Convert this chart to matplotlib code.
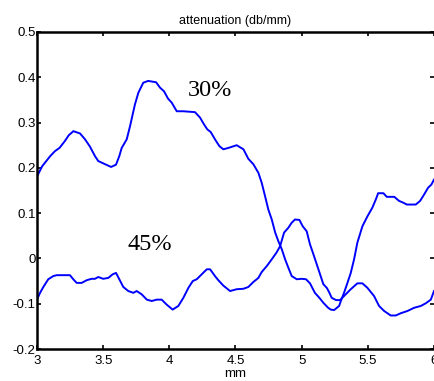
import matplotlib.pyplot as plt

# curve labelled 30%
x30 = [3.00, 3.04, 3.10, 3.136, 3.17, 3.21, 3.24, 3.275, 3.325, 3.363, 3.40, 3.438, 3.463, 3.50, 3.56,
       3.597, 3.622, 3.64, 3.678, 3.703, 3.74, 3.766, 3.803, 3.84, 3.90, 3.93, 3.96, 3.99, 4.018, 4.056,
       4.106, 4.194, 4.232, 4.262, 4.287, 4.313, 4.345, 4.378, 4.408, 4.446, 4.509, 4.56, 4.597, 4.635,
       4.673, 4.698, 4.723, 4.748, 4.774, 4.80, 4.824, 4.85, 4.875, 4.90, 4.925, 4.963, 5.00, 5.033, 5.063,
       5.10, 5.134, 5.164, 5.20, 5.22, 5.245, 5.283, 5.296, 5.32, 5.346, 5.371, 5.396, 5.421, 5.459, 5.497,
       5.534, 5.56, 5.578, 5.618, 5.643, 5.70, 5.736, 5.761, 5.795, 5.862, 5.895, 5.925, 5.955, 5.98, 6.0]
y30 = [0.181, 0.204, 0.226, 0.237, 0.244, 0.259, 0.272, 0.281, 0.276, 0.263, 0.247, 0.226, 0.215, 0.210,
       0.202, 0.207, 0.226, 0.244, 0.263, 0.292, 0.340, 0.366, 0.388, 0.392, 0.389, 0.377, 0.369, 0.353,
       0.344, 0.325, 0.325, 0.323, 0.311, 0.296, 0.285, 0.279, 0.263, 0.248, 0.241, 0.244, 0.250, 0.241,
       0.220, 0.208, 0.189, 0.167, 0.138, 0.108, 0.086, 0.057, 0.038, 0.020, -0.002, -0.021, -0.039, -0.046,
       -0.045, -0.046, -0.055, -0.076, -0.087, -0.098, -0.109, -0.113, -0.114, -0.105, -0.094, -0.076,
       -0.054, -0.032, -0.002, 0.035, 0.071, 0.093, 0.112, 0.130, 0.144, 0.144, 0.136, 0.136, 0.127, 0.124,
       0.119, 0.119, 0.127, 0.141, 0.156, 0.163, 0.174]

# curve labelled 45%
x45 = [3.0, 3.023, 3.048, 3.085, 3.123, 3.149, 3.249, 3.274, 3.30, 3.338, 3.376, 3.413, 3.438, 3.463, 3.50,
       3.539, 3.572, 3.597, 3.622, 3.652, 3.69, 3.728, 3.753, 3.79, 3.83, 3.867, 3.905, 3.942, 3.98, 4.025,
       4.068, 4.106, 4.144, 4.177, 4.207, 4.245, 4.283, 4.308, 4.345, 4.37, 4.408, 4.459, 4.509, 4.56,
       4.597, 4.635, 4.673, 4.698, 4.736, 4.774, 4.81, 4.837, 4.867, 4.90, 4.925, 4.95, 4.983, 5.008, 5.038,
       5.063, 5.089, 5.114, 5.139, 5.164, 5.19, 5.21, 5.227, 5.26, 5.29, 5.32, 5.371, 5.421, 5.459, 5.497,
       5.547, 5.585, 5.623, 5.673, 5.711, 5.749, 5.80, 5.85, 5.90, 5.938, 5.976, 6.0]
y45 = [-0.091, -0.076, -0.063, -0.046, -0.039, -0.037, -0.037, -0.046, -0.054, -0.054, -0.048, -0.045,
       -0.045, -0.041, -0.045, -0.043, -0.035, -0.032, -0.046, -0.063, -0.072, -0.076, -0.072, -0.079,
       -0.091, -0.094, -0.091, -0.091, -0.102, -0.113, -0.105, -0.087, -0.065, -0.050, -0.046, -0.035,
       -0.024, -0.024, -0.039, -0.048, -0.060, -0.072, -0.068, -0.067, -0.063, -0.052, -0.043, -0.030,
       -0.017, -0.002, 0.013, 0.027, 0.057, 0.068, 0.079, 0.086, 0.085, 0.071, 0.060, 0.031, 0.009, -0.013,
       -0.035, -0.057, -0.065, -0.076, -0.087, -0.092, -0.092, -0.083, -0.068, -0.055, -0.055, -0.065,
       -0.083, -0.105, -0.116, -0.126, -0.126, -0.121, -0.116, -0.109, -0.105, -0.099, -0.091, -0.072]

xticks = [3, 3.5, 4, 4.5, 5, 5.5, 6]
xticklabels = ['3', '3.5', '4', '4.5', '5', '5.5', '6']
yticks = [-0.2, -0.1, 0, 0.1, 0.2, 0.3, 0.4, 0.5]
yticklabels = ['-0.2', '-0.1', '0', '0.1', '0.2', '0.3', '0.4', '0.5']

plt.rcParams['font.family'] = ['Liberation Sans', 'DejaVu Sans']

fig = plt.figure(figsize=(4.34, 3.81), dpi=100)
ax = fig.add_axes([37 / 434, 1 - 349 / 381, 1 - 37 / 434, (349 - 32) / 381])

ax.plot(x30, y30, color='#0000ff', lw=1.4)
ax.plot(x45, y45, color='#0000ff', lw=1.4)

ax.text(4.14, 0.359, '30%', family='Liberation Serif', fontsize=17.5, ha='left', va='baseline')
ax.text(3.685, 0.019, '45%', family='Liberation Serif', fontsize=17.5, ha='left', va='baseline')

ax.set_xlim(3, 6)
ax.set_ylim(-0.2, 0.5)
ax.set_xticks(xticks)
ax.set_xticklabels(xticklabels)
ax.set_yticks(yticks)
ax.set_yticklabels(yticklabels)
ax.tick_params(direction='in', length=3, width=1.2, top=True, right=True,
               labelsize=9.5, colors='black')
ax.tick_params(axis='x', pad=4)
ax.tick_params(axis='y', pad=1)
for s in ax.spines.values():
    s.set_linewidth(1.8)
# right edge of the original is cropped, only a faint trace of the box shows
ax.spines['right'].set_linewidth(0.4)

ax.set_title('attenuation (db/mm)', fontsize=9, pad=6)
ax.set_xlabel('mm', fontsize=9.5, labelpad=1)

fig.savefig('out.png', dpi=100)
